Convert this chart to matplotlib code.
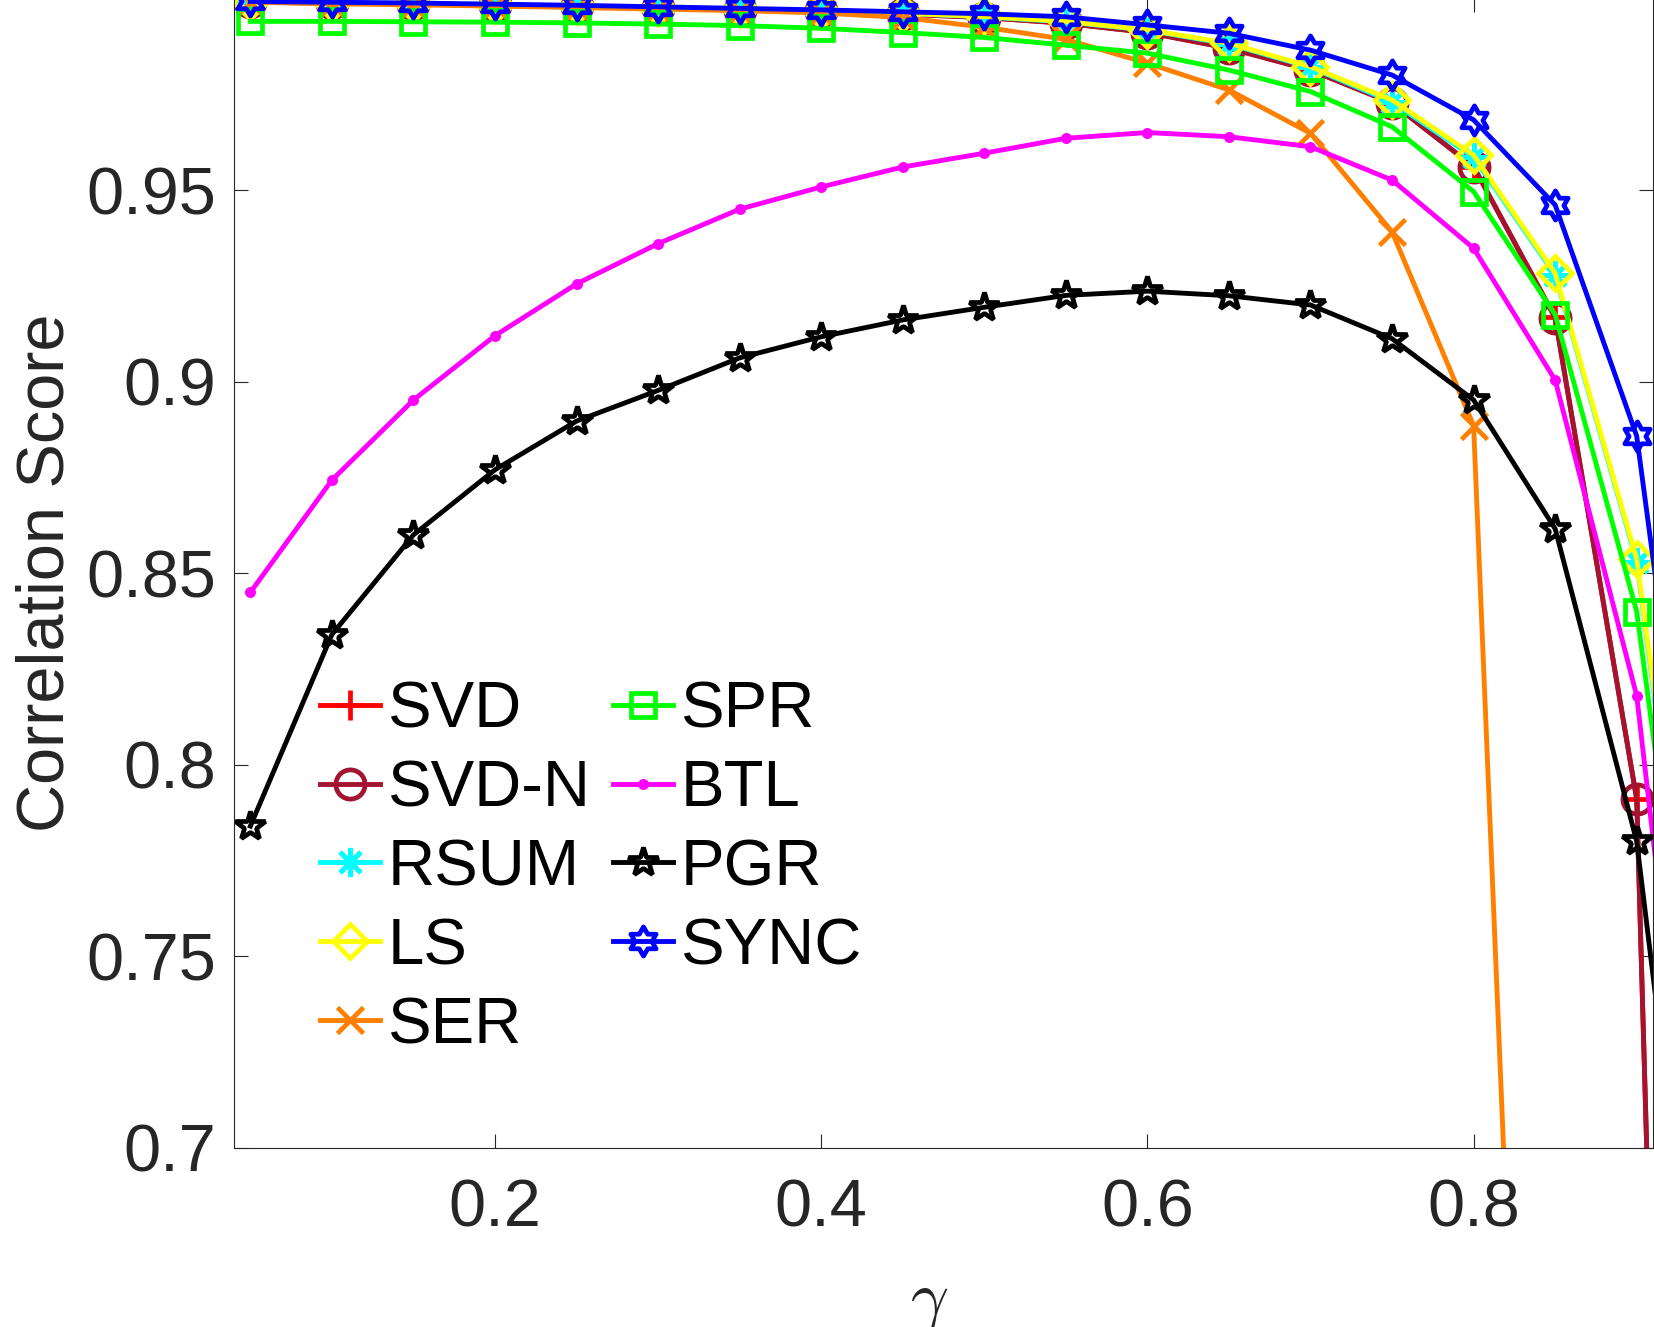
import matplotlib
matplotlib.use("Agg")
import matplotlib.pyplot as plt
from matplotlib.path import Path

plt.rcParams["font.family"] = ["Liberation Sans", "DejaVu Sans"]
plt.rcParams["mathtext.fontset"] = "cm"

# gamma values (last point lies just outside the visible range and is clipped)
gamma = [0.05, 0.10, 0.15, 0.20, 0.25, 0.30, 0.35, 0.40, 0.45, 0.50,
         0.55, 0.60, 0.65, 0.70, 0.75, 0.80, 0.85, 0.90, 0.95]

svd = [0.9990, 0.9988, 0.9986, 0.9983, 0.9980, 0.9976, 0.9971, 0.9966, 0.9959, 0.9950,
       0.9935, 0.9911, 0.9870, 0.9813, 0.9727, 0.9561, 0.9168, 0.7910, 0.0500]
svd_n = [0.9990, 0.9988, 0.9986, 0.9983, 0.9980, 0.9976, 0.9971, 0.9966, 0.9959, 0.9950,
         0.9935, 0.9911, 0.9870, 0.9813, 0.9727, 0.9561, 0.9166, 0.7910, 0.0500]
rsum = [0.9990, 0.9988, 0.9986, 0.9983, 0.9980, 0.9976, 0.9972, 0.9967, 0.9961, 0.9952,
        0.9939, 0.9917, 0.9881, 0.9820, 0.9730, 0.9585, 0.9278, 0.8530, 0.6900]
ls = [0.9990, 0.9988, 0.9986, 0.9983, 0.9980, 0.9976, 0.9972, 0.9967, 0.9961, 0.9953,
      0.9940, 0.9918, 0.9883, 0.9822, 0.9735, 0.9591, 0.9283, 0.8536, 0.6940]
ser = [0.9990, 0.9986, 0.9983, 0.9980, 0.9976, 0.9972, 0.9968, 0.9962, 0.9950, 0.9925,
       0.9893, 0.9831, 0.9761, 0.9648, 0.9391, 0.8885, 0.3750, 0.2500, 0.1500]
spr = [0.9940, 0.9940, 0.9939, 0.9938, 0.9936, 0.9933, 0.9929, 0.9922, 0.9911, 0.9898,
       0.9878, 0.9857, 0.9813, 0.9757, 0.9665, 0.9496, 0.9175, 0.8400, 0.6800]
btl = [0.8450, 0.8743, 0.8952, 0.9120, 0.9255, 0.9360, 0.9450, 0.9508, 0.9560, 0.9596,
       0.9635, 0.9650, 0.9639, 0.9613, 0.9526, 0.9348, 0.9004, 0.8180, 0.6330]
pgr = [0.7840, 0.8340, 0.8600, 0.8770, 0.8897, 0.8977, 0.9062, 0.9117, 0.9161, 0.9194,
       0.9225, 0.9236, 0.9224, 0.9200, 0.9112, 0.8952, 0.8616, 0.7800, 0.6050]
sync = [0.9992, 0.9990, 0.9988, 0.9985, 0.9982, 0.9978, 0.9974, 0.9970, 0.9965, 0.9960,
        0.9952, 0.9931, 0.9909, 0.9865, 0.9800, 0.9683, 0.9461, 0.8858, 0.7260]

names = ["SVD", "SVD-N", "RSUM", "LS", "SER", "SPR", "BTL", "PGR", "SYNC"]
x_ticks = [0.2, 0.4, 0.6, 0.8]
y_ticks = [0.7, 0.75, 0.8, 0.85, 0.9, 0.95]
y_tick_labels = ["0.7", "0.75", "0.8", "0.85", "0.9", "0.95"]

hexagram = Path.unit_regular_star(6, 0.577)

styles = [
    dict(color="#FF0000", marker="+", ms=21),
    dict(color="#A2142F", marker="o", ms=21),
    dict(color="#00FFFF", marker=(8, 2, 0), ms=21),
    dict(color="#FFFF00", marker="D", ms=17),
    dict(color="#FF8000", marker="x", ms=19),
    dict(color="#00FF00", marker="s", ms=17),
    dict(color="#FF00FF", marker=".", ms=9),
    dict(color="#000000", marker="*", ms=22),
    dict(color="#0000FF", marker=hexagram, ms=21),
]
series = [svd, svd_n, rsum, ls, ser, spr, btl, pgr, sync]

fig = plt.figure(figsize=(16.54, 13.27), dpi=100)
ax = fig.add_axes([0.1415, 0.1349, 0.8579, 0.8663])

for name, vals, st in zip(names, series, styles):
    ax.plot(gamma, vals, label=name, color=st["color"], marker=st["marker"],
            markersize=st["ms"], markerfacecolor="none", markeredgecolor=st["color"],
            markeredgewidth=3.4, linewidth=3.5)

ax.set_xlim(0.04, 0.91)
ax.set_ylim(0.7, 1.0)
ax.set_xticks(x_ticks)
ax.set_xticklabels([str(t) for t in x_ticks])
ax.set_yticks(y_ticks)
ax.set_yticklabels(y_tick_labels)

ax.tick_params(axis="both", direction="in", length=10, width=0.8, colors="#262626",
               labelsize=48, top=True, right=True)
ax.tick_params(axis="x", pad=22)
ax.tick_params(axis="y", pad=13)
for sp in ax.spines.values():
    sp.set_color("#262626")
    sp.set_linewidth(0.8)

ax.set_ylabel("Correlation Score", fontsize=48, color="#262626")
ax.yaxis.set_label_coords(-0.1105, 0.5)
ax.set_xlabel(r"$\gamma$", fontsize=48, color="#262626")
ax.xaxis.set_label_coords(0.49, -0.108)

ax.legend(loc="upper left", bbox_to_anchor=(0.1935, 0.4872), bbox_transform=fig.transFigure,
          ncol=2, frameon=False, fontsize=47, borderpad=0, labelspacing=0.29,
          handlelength=0.92, handletextpad=0.12, columnspacing=0.34, numpoints=1,
          borderaxespad=0)

fig.savefig("out.png", dpi=100)
